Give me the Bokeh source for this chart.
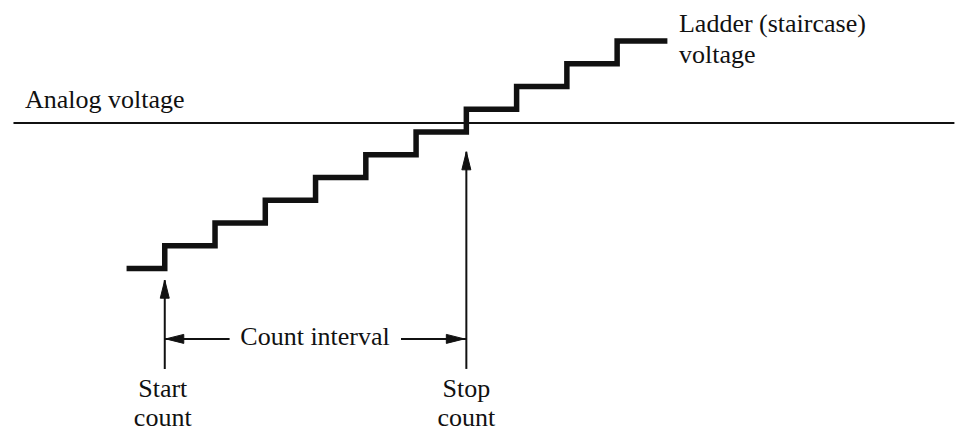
from bokeh.plotting import figure
from bokeh.models import Range1d
from bokeh.core.properties import value
from bokeh.embed import file_html
from bokeh.resources import INLINE

# ---- data (time in clock periods, voltage in ladder steps) ----
stair_t = [-0.76, 0, 1, 2, 3, 4, 5, 6, 7, 8, 9, 10]
stair_v = [0, 1, 2, 3, 4, 5, 6, 7, 8, 9, 10, 10]
analog_v = 6.4
analog_t = [-3.01, 15.71]
start_t = 0
stop_t = 6
arrow_bottom_v = -4.41
start_tip_v = -0.51
stop_tip_v = 5.13
interval_v = -3.09
interval_left_end = 1.29
interval_right_start = 4.70

labels_text = ["Analog voltage", "Ladder (staircase)", "voltage", "Count interval",
               "Start", "count", "Stop", "count"]
labels_t = [-2.78, 10.23, 10.23, 2.99, -0.04, -0.04, 6.0, 6.0]
labels_v = [7.43, 10.78, 9.42, -2.99, -5.28, -6.55, -5.28, -6.55]
labels_align = ["left", "left", "left", "center", "center", "center", "center", "center"]

# ---- layout ----
W, H = 961, 432
SX, SY = W / 977, H / 448
PX_T = 51.1 * SX    # px per time unit
PX_V = 23.6 * SY    # px per voltage unit
X0_PX, Y0_PX = 167 * SX, 278 * SY   # position of (0,0) inside the figure
x_lo = -X0_PX / PX_T
x_hi = (W - X0_PX) / PX_T
y_hi = Y0_PX / PX_V
y_lo = -(H - Y0_PX) / PX_V

p = figure(width=W, height=H, output_backend="svg", toolbar_location=None,
           x_range=Range1d(x_lo, x_hi), y_range=Range1d(y_lo, y_hi),
           min_border=0, min_border_left=0, min_border_right=0,
           min_border_top=0, min_border_bottom=0)
p.axis.visible = False
p.grid.visible = False
p.outline_line_color = None
p.background_fill_color = "white"
p.border_fill_color = "white"

ink = "#111111"

# analog voltage line
p.line(analog_t, [analog_v, analog_v], line_color=ink, line_width=2)

# staircase
p.step(stair_t, stair_v, mode="after", line_color=ink, line_width=5.5,
       line_join="miter")

# vertical marker lines (start / stop)
p.segment(x0=[start_t, stop_t], y0=[arrow_bottom_v, arrow_bottom_v],
          x1=[start_t, stop_t], y1=[start_tip_v, stop_tip_v],
          line_color=ink, line_width=2)

# count interval lines
p.segment(x0=[start_t, interval_right_start], y0=[interval_v, interval_v],
          x1=[interval_left_end, stop_t], y1=[interval_v, interval_v],
          line_color=ink, line_width=2)

# arrow heads (long narrow triangles), built from the tip positions
L, HW = 18, 4.5   # px
def head(tx, ty, dx, dy):
    bx = tx - dx * L / PX_T
    by = ty - dy * L / PX_V
    px_, py_ = -dy, dx
    xs = [tx, bx + px_ * HW / PX_T, bx - px_ * HW / PX_T]
    ys = [ty, by + py_ * HW / PX_V, by - py_ * HW / PX_V]
    return xs, ys

heads = [head(start_t, start_tip_v, 0, 1), head(stop_t, stop_tip_v, 0, 1),
         head(start_t + 0.02, interval_v, -1, 0), head(stop_t - 0.04, interval_v, 1, 0)]
p.patches([h[0] for h in heads], [h[1] for h in heads], fill_color=ink,
          line_color=ink, line_width=1)

# labels
p.text(x=labels_t, y=labels_v, text=labels_text, text_align=labels_align,
       text_baseline="alphabetic", text_font=value("Liberation Serif"),
       text_font_size="26px", text_color=ink)

open("out.html", "w").write(file_html(p, INLINE))
